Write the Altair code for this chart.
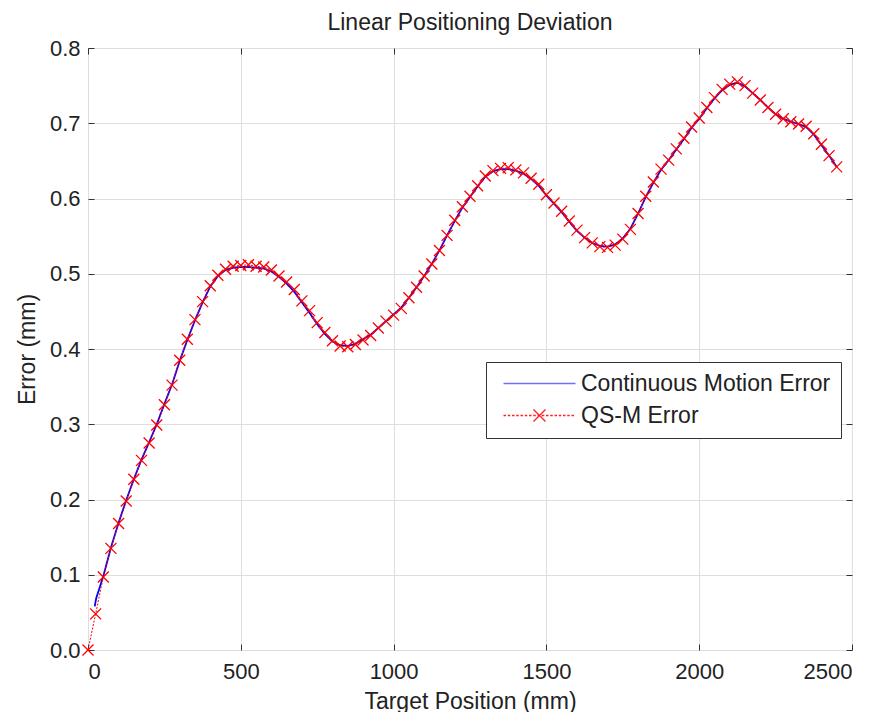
import altair as alt
import pandas as pd

# ---------------- data ----------------
title_text = "Linear Positioning Deviation"
x_title = "Target Position (mm)"
y_title = "Error (mm)"
series_names = ["Continuous Motion Error", "QS-M Error"]
x_ticks = [0, 500, 1000, 1500, 2000, 2500]
y_ticks = [0, 0.1, 0.2, 0.3, 0.4, 0.5, 0.6, 0.7, 0.8]

qsm_x = [0, 25, 50, 75, 100, 125, 150, 175, 200, 225, 250, 275, 300, 325, 350,
         375, 400, 425, 450, 475, 500, 525, 550, 575, 600, 625, 650, 675, 700,
         725, 750, 775, 800, 825, 850, 875, 900, 925, 950, 975, 1000, 1025,
         1050, 1075, 1100, 1125, 1150, 1175, 1200, 1225, 1250, 1275, 1300,
         1325, 1350, 1375, 1400, 1425, 1450, 1475, 1500, 1525, 1550, 1575,
         1600, 1625, 1650, 1675, 1700, 1725, 1750, 1775, 1800, 1825, 1850,
         1875, 1900, 1925, 1950, 1975, 2000, 2025, 2050, 2075, 2100, 2125,
         2150, 2175, 2200, 2225, 2250, 2275, 2300, 2325, 2350, 2375, 2400,
         2425, 2450]
qsm_y = [0.000, 0.048, 0.097, 0.135, 0.168, 0.198, 0.227, 0.252, 0.275, 0.299,
         0.326, 0.352, 0.385, 0.413, 0.439, 0.463, 0.484, 0.498, 0.506, 0.510,
         0.511, 0.512, 0.510, 0.509, 0.505, 0.497, 0.489, 0.479, 0.464, 0.451,
         0.435, 0.422, 0.411, 0.404, 0.403, 0.406, 0.412, 0.418, 0.428, 0.437,
         0.445, 0.454, 0.468, 0.482, 0.497, 0.513, 0.531, 0.551, 0.571, 0.589,
         0.603, 0.617, 0.630, 0.637, 0.640, 0.641, 0.638, 0.634, 0.627, 0.619,
         0.605, 0.594, 0.583, 0.570, 0.558, 0.548, 0.541, 0.536, 0.535, 0.538,
         0.546, 0.559, 0.580, 0.603, 0.622, 0.639, 0.651, 0.666, 0.680, 0.695,
         0.707, 0.721, 0.734, 0.745, 0.752, 0.755, 0.750, 0.740, 0.731, 0.721,
         0.712, 0.706, 0.702, 0.699, 0.696, 0.686, 0.672, 0.657, 0.642]

cont_x = [22, 27, 50, 75, 100, 125, 150, 175, 200, 225, 250, 275, 300, 325,
          350, 375, 400, 425, 450, 475, 500, 525, 550, 575, 600, 625, 650, 675,
          700, 725, 750, 775, 800, 825, 850, 875, 900, 925, 950, 975, 1000,
          1025, 1050, 1075, 1100, 1125, 1150, 1175, 1200, 1225, 1250, 1275,
          1300, 1325, 1350, 1375, 1400, 1425, 1450, 1475, 1500, 1525, 1550,
          1575, 1600, 1625, 1650, 1675, 1700, 1725, 1750, 1775, 1800, 1825,
          1850, 1875, 1900, 1925, 1950, 1975, 2000, 2025, 2050, 2075, 2100,
          2125, 2150, 2175, 2200, 2225, 2250, 2275, 2300, 2325, 2350, 2375,
          2400, 2425, 2450]
cont_y = [0.058, 0.069, 0.098, 0.136, 0.169, 0.199, 0.227, 0.253, 0.276, 0.300,
          0.327, 0.353, 0.384, 0.412, 0.438, 0.462, 0.483, 0.497, 0.505, 0.508,
          0.509, 0.509, 0.508, 0.507, 0.503, 0.496, 0.487, 0.476, 0.462, 0.448,
          0.433, 0.420, 0.410, 0.405, 0.404, 0.407, 0.413, 0.419, 0.428, 0.437,
          0.446, 0.455, 0.468, 0.482, 0.497, 0.513, 0.531, 0.551, 0.570, 0.588,
          0.602, 0.616, 0.629, 0.636, 0.639, 0.639, 0.637, 0.633, 0.626, 0.617,
          0.604, 0.593, 0.582, 0.569, 0.557, 0.548, 0.541, 0.537, 0.536, 0.539,
          0.547, 0.560, 0.580, 0.602, 0.621, 0.638, 0.651, 0.665, 0.679, 0.694,
          0.706, 0.720, 0.733, 0.744, 0.751, 0.754, 0.749, 0.740, 0.731, 0.721,
          0.712, 0.706, 0.702, 0.699, 0.695, 0.685, 0.671, 0.657, 0.642]

rows = [{"x": a, "y": b, "series": series_names[0]} for a, b in zip(cont_x, cont_y)]
rows += [{"x": a, "y": b, "series": series_names[1]} for a, b in zip(qsm_x, qsm_y)]
df = pd.DataFrame(rows)
df_qsm = pd.DataFrame({"x": qsm_x, "y": qsm_y})

# ---------------- style ----------------
FONT = "Liberation Sans"
TXT = "#222222"
W, H = 764, 602
TICK = 6

blue_path = "M-7.2,0H7.2"
segs = []
a = -7.2
while a < 7.2:
    segs.append(f"M{a:.2f},0H{min(a + 0.5, 7.2):.2f}")
    a += 0.85
red_path = "".join(segs) + "M-1.2,-1.2L1.2,1.2M-1.2,1.2L1.2,-1.2"

x_scale = alt.Scale(domain=[0, 2500], nice=False, zero=False)
y_scale = alt.Scale(domain=[0, 0.8], nice=False, zero=False)

legend = alt.Legend(
    title=None, orient="none", legendX=398, legendY=314, direction="vertical",
    labelFont=FONT, labelFontSize=23, labelColor=TXT, labelLimit=500,
    symbolSize=100, symbolOffset=32, labelOffset=30,
    symbolStrokeWidth=1.4, symbolOpacity=1,
    padding=10, rowPadding=8,
    strokeColor="#333333", fillColor="white",
)

lines = alt.Chart(df).mark_line(interpolate="linear").encode(
    x=alt.X("x:Q", scale=x_scale,
            axis=alt.Axis(orient="bottom", values=x_ticks, format="d", title=x_title,
                          offset=-TICK, tickSize=TICK, domain=False, grid=True,
                          labelPadding=11, titlePadding=8)),
    y=alt.Y("y:Q", scale=y_scale,
            axis=alt.Axis(orient="left", values=y_ticks, title=y_title,
                          offset=-TICK, tickSize=TICK, domain=False, grid=True,
                          labelPadding=8, titlePadding=10)),
    color=alt.Color("series:N", scale=alt.Scale(domain=series_names, range=["#0000ff", "#ff0000"]),
                    legend=None),
    strokeDash=alt.StrokeDash("series:N",
                              scale=alt.Scale(domain=series_names, range=[[1, 0], [2, 1.5]]),
                              legend=None),
    strokeWidth=alt.StrokeWidth("series:N",
                                scale=alt.Scale(domain=series_names, range=[1.8, 1.0]),
                                legend=None),
)

points = alt.Chart(df_qsm).mark_point(
    shape="M-1,-1L1,1M-1,1L1,-1", filled=False, size=121, strokeWidth=1.3,
    color="#ff0000", opacity=1,
).encode(
    x=alt.X("x:Q", scale=x_scale,
            axis=alt.Axis(orient="top", values=x_ticks, labels=False, title=None,
                          offset=-TICK, tickSize=TICK, domain=False, grid=False,
                          minExtent=0, maxExtent=0)),
    y=alt.Y("y:Q", scale=y_scale,
            axis=alt.Axis(orient="right", values=y_ticks, labels=False, title=None,
                          offset=-TICK, tickSize=TICK, domain=False, grid=False,
                          minExtent=0, maxExtent=0)),
)

# legend source: invisible symbols; the legend shows a line sample and a marker glyph
legend_src = alt.Chart(df).mark_point(filled=False, opacity=0, size=100, strokeWidth=1.2).encode(
    x=alt.X("x:Q", scale=x_scale, axis=None),
    y=alt.Y("y:Q", scale=y_scale, axis=None),
    color=alt.Color("series:N", scale=alt.Scale(domain=series_names, range=["#7070ff", "#ff2020"]),
                    legend=legend),
    shape=alt.Shape("series:N", scale=alt.Scale(domain=series_names, range=[blue_path, red_path]),
                    legend=legend),
)

chart = alt.layer(lines, points, legend_src).resolve_axis(
    x="independent", y="independent"
).resolve_scale(
    color="independent", shape="independent"
).properties(
    width=W, height=H,
    title=alt.Title(title_text, font=FONT, fontSize=23, fontWeight="normal", color=TXT,
                    anchor="middle", frame="group", offset=2),
    padding={"left": 80, "top": 40, "right": 20, "bottom": 62},
    autosize=alt.AutoSizeParams(type="none"),
    background="white",
).configure_view(
    stroke="#333333", strokeWidth=1
).configure_axis(
    labelFont=FONT, titleFont=FONT, labelFontSize=22, titleFontSize=23,
    titleFontWeight="normal", labelColor=TXT, titleColor=TXT,
    tickColor="#333333", tickWidth=1, gridColor="#dedede", gridWidth=1,
)

chart.save("out.html", embed_options={"renderer": "svg", "actions": False})
